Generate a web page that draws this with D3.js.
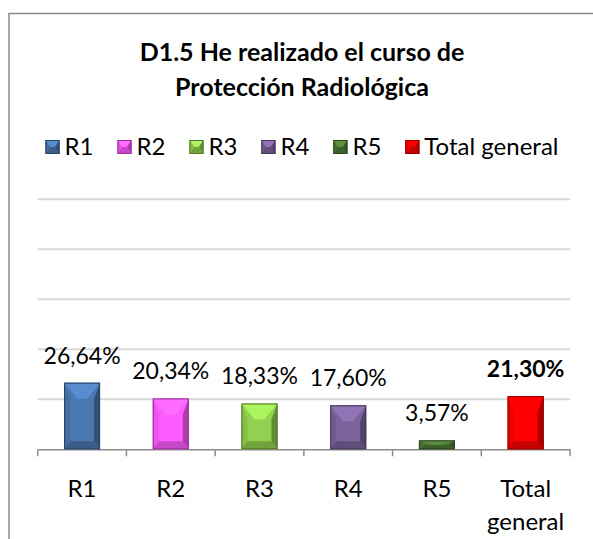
<!DOCTYPE html>
<html>
<head>
<meta charset="utf-8">
<script src="https://cdn.jsdelivr.net/npm/d3@7"></script>
<style>
  body { margin: 0; background: #fff; }
  text { font-family: Lato, "Open Sans", sans-serif; fill: #000; }
</style>
</head>
<body>
<div id="chart"></div>
<script>
// data
var categories = ["R1", "R2", "R3", "R4", "R5", "Total general"];
var values = [26.64, 20.34, 18.33, 17.60, 3.57, 21.30];
var yTicks = [0, 20, 40, 60, 80, 100];
var titleLines = ["D1.5 He realizado el curso de", "Protección Radiológica"];

var palette = ["#4a78b0", "#ff5cff", "#92d050", "#7b639b", "#4e7a36", "#ff0000"];

var W = 593, H = 539;
var svg = d3.select("#chart").append("svg")
    .attr("width", W).attr("height", H);

// chart border
svg.append("rect")
    .attr("x", 9).attr("y", 13.5)
    .attr("width", 620).attr("height", 560)
    .attr("fill", "#fff").attr("stroke", "#8c8c8c").attr("stroke-width", 1.5);

var x = d3.scaleBand().domain(categories).range([37.7, 570]).padding(0);
var y = d3.scaleLinear().domain([0, 100]).range([449.3, 199.3]);

var fmt = d3.formatLocale({decimal: ",", thousands: ".", grouping: [3], currency: ["", "€"]}).format(".2f");

// title
svg.append("g").selectAll("text")
  .data(titleLines)
  .enter().append("text")
    .attr("x", 302)
    .attr("y", function(d, i) { return 61 + i * 35; })
    .attr("text-anchor", "middle")
    .attr("font-size", 25)
    .attr("font-weight", "bold")
    .text(function(d) { return d; });

// gridlines
svg.append("g").selectAll("line")
  .data(yTicks.slice(1))
  .enter().append("line")
    .attr("x1", 37.7).attr("x2", 570)
    .attr("y1", function(d) { return y(d); })
    .attr("y2", function(d) { return y(d); })
    .attr("stroke", "#d9d9d9").attr("stroke-width", 2);

// x axis
var xAxis = d3.axisBottom(x).tickSize(0).tickFormat("");
var gx = svg.append("g").attr("transform", "translate(0," + y(0) + ")").call(xAxis);
gx.select(".domain").attr("stroke", "#8c8c8c").attr("stroke-width", 1.5);
var edges = x.domain().map(function(d) { return x(d); }).concat([570]);
gx.selectAll(".edge").data(edges).enter().append("line")
    .attr("x1", function(d) { return d; }).attr("x2", function(d) { return d; })
    .attr("y1", 0).attr("y2", 7)
    .attr("stroke", "#8c8c8c").attr("stroke-width", 1.5);

// category labels
var catLab = svg.append("g").selectAll("text")
  .data(categories)
  .enter().append("text")
    .attr("text-anchor", "middle")
    .attr("font-size", 24)
    .attr("x", function(d) { return x(d) + x.bandwidth() / 2; })
    .attr("y", 497);
catLab.each(function(d) {
  var words = d.split(" ");
  var t = d3.select(this);
  words.forEach(function(w, i) {
    t.append("tspan")
      .attr("x", x(d) + x.bandwidth() / 2)
      .attr("dy", i === 0 ? 0 : 33)
      .text(w);
  });
});

// bevelled block
function bevel(g, bx, by, bw, bh, col) {
  var c = d3.color(col);
  var side = Math.min(6, bw / 3);
  var top = Math.min(16, bh / 2);
  var bot = Math.min(8, bh / 2);
  var ix0 = bx + bw * 0.36, ix1 = bx + bw * 0.64;
  g.append("rect").attr("x", bx).attr("y", by).attr("width", bw).attr("height", bh)
    .attr("fill", c.formatHex());
  // right darker strip
  g.append("path").attr("d", "M" + (bx + bw) + "," + by + "L" + (bx + bw - side) + "," + (by + top) +
      "L" + (bx + bw - side) + "," + (by + bh - bot) + "L" + (bx + bw) + "," + (by + bh) + "Z")
    .attr("fill", c.darker(1.1).formatHex());
  // left slightly lighter strip
  g.append("path").attr("d", "M" + bx + "," + by + "L" + (bx + side) + "," + (by + top) +
      "L" + (bx + side) + "," + (by + bh - bot) + "L" + bx + "," + (by + bh) + "Z")
    .attr("fill", c.darker(0.25).formatHex());
  // bottom darker
  g.append("path").attr("d", "M" + bx + "," + (by + bh) + "L" + (bx + side) + "," + (by + bh - bot) +
      "L" + (bx + bw - side) + "," + (by + bh - bot) + "L" + (bx + bw) + "," + (by + bh) + "Z")
    .attr("fill", c.darker(0.7).formatHex());
  // top highlight
  g.append("path").attr("d", "M" + bx + "," + by + "L" + (bx + bw) + "," + by +
      "L" + ix1 + "," + (by + top) + "L" + ix0 + "," + (by + top) + "Z")
    .attr("fill", c.brighter(0.45).formatHex());
  g.append("rect").attr("x", bx + 0.5).attr("y", by + 0.5).attr("width", bw - 1).attr("height", bh - 1)
    .attr("fill", "none").attr("stroke", c.darker(1.6).formatHex()).attr("stroke-width", 1);
}

// bars
var barW = 36;
var bars = svg.append("g");
categories.forEach(function(d, i) {
  var bx = x(d) + (x.bandwidth() - barW) / 2;
  bevel(bars.append("g"), bx, y(values[i]), barW, y(0) - y(values[i]), palette[i]);
});

// value labels
svg.append("g").selectAll("text")
  .data(values)
  .enter().append("text")
    .attr("text-anchor", "middle")
    .attr("font-size", 23)
    .attr("font-weight", function(d, i) { return i === values.length - 1 ? "bold" : "normal"; })
    .attr("x", function(d, i) { return x(categories[i]) + x.bandwidth() / 2; })
    .attr("y", function(d) { return y(d) - 19; })
    .text(function(d) { return fmt(d) + "%"; });

// legend, laid out from measured text widths and centred
var sq = 14, gapIn = 5, gapOut = 24;
var leg = svg.append("g");
var items = categories.map(function(d, i) {
  var g = leg.append("g");
  var t = g.append("text").attr("x", sq + gapIn).attr("y", 0)
    .attr("font-size", 24).text(d);
  return {g: g, w: sq + gapIn + t.node().getComputedTextLength(), i: i};
});
var total = d3.sum(items, function(it) { return it.w; }) + gapOut * (items.length - 1);
var cx = 302 - total / 2;
items.forEach(function(it) {
  it.g.attr("transform", "translate(" + cx + ",155)");
  bevel(it.g, 0, -sq - 1, sq, sq, palette[it.i]);
  it.g.select("text").raise();
  cx += it.w + gapOut;
});
</script>
</body>
</html>
